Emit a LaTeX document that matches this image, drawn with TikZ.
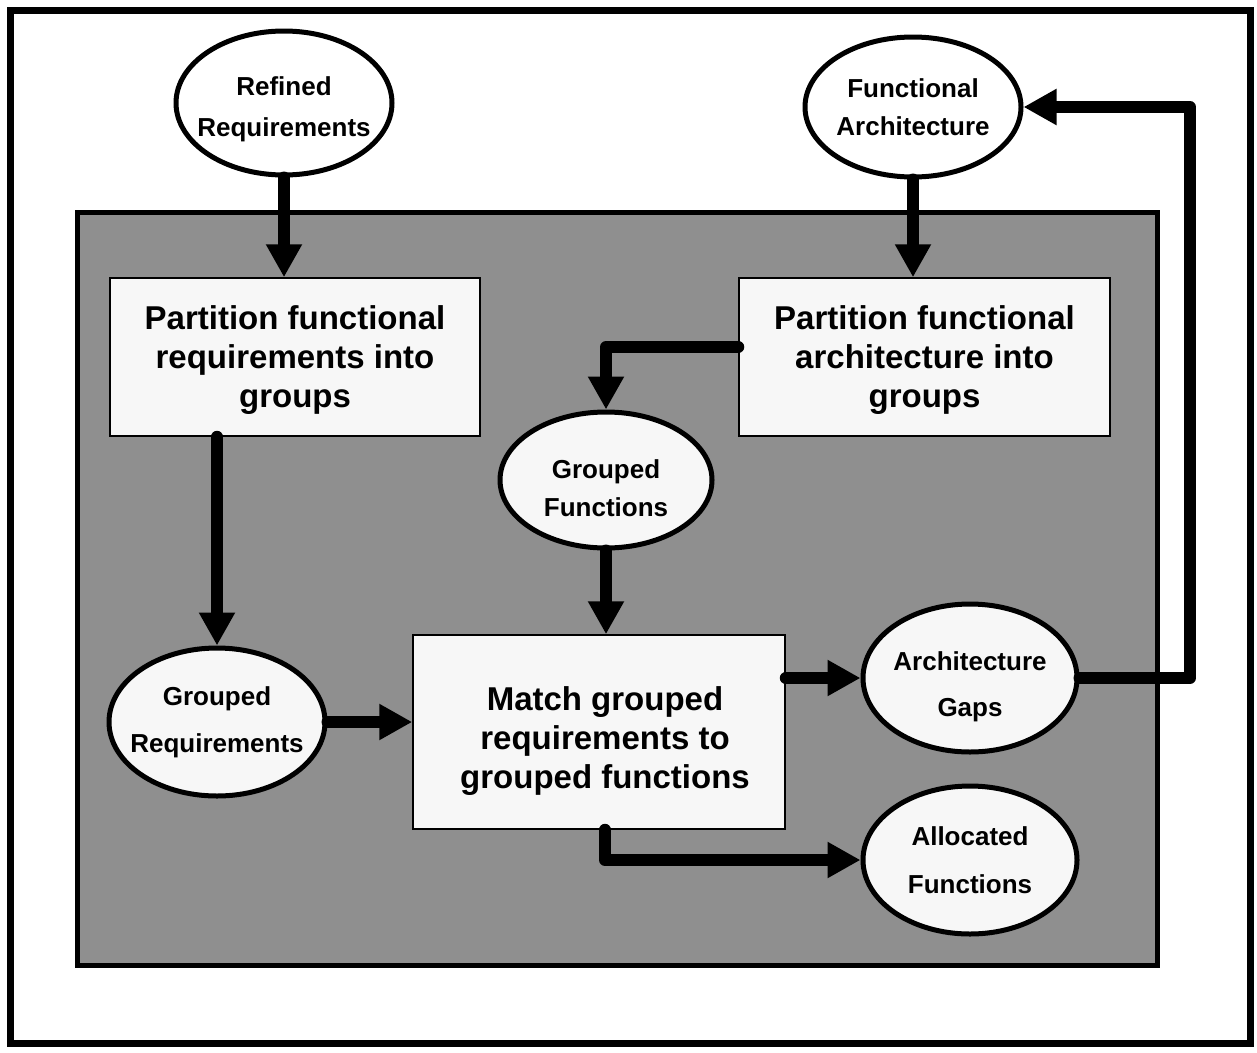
\documentclass[tikz,border=0pt]{standalone}
\usepackage{fontspec}
\setmainfont{Liberation Sans}
\usetikzlibrary{arrows.meta,shapes.geometric}
\definecolor{panelgray}{RGB}{143,143,143}
\definecolor{boxfill}{RGB}{247,247,247}
\begin{document}
\begin{tikzpicture}[x=1pt,y=-1pt,
  frame/.style={draw, rectangle, line width=7pt, inner sep=0pt},
  panel/.style={draw, rectangle, line width=5pt, fill=panelgray, inner sep=0pt},
  stepbox/.style={draw, rectangle, line width=1.5pt, fill=boxfill, inner sep=0pt},
  boxtext/.style={align=center, font=\bfseries\fontsize{33}{39}\selectfont},
  oval/.style={draw, ellipse, line width=5pt, fill=boxfill, inner sep=0pt},
  ovaltext/.style={align=center, font=\bfseries\fontsize{26}{#1}\selectfont},
  arr/.style={line width=12pt, line join=round, line cap=round,
    -{Triangle[length=33pt,width=34pt]}}
]
\useasboundingbox (0,0) rectangle (1257,1052);
\node[frame, minimum width=1240pt, minimum height=1033pt] (frame) at (630,526.5) {};
\node[panel, minimum width=1080pt, minimum height=753pt] (panel) at (617,588.5) {};

\node[oval, fill=white, minimum width=216pt, minimum height=144pt,
  label={[ovaltext=41,yshift=-6pt]center:Refined\\Requirements}] (rr) at (284,103) {};
\node[oval, fill=white, minimum width=216pt, minimum height=140pt,
  label={[ovaltext=38]center:Functional\\Architecture}] (fa) at (913,107) {};

\node[stepbox, minimum width=370pt, minimum height=158pt,
  label={[boxtext,yshift=-3pt]center:Partition functional\\requirements into\\groups}] (b1) at (295,357) {};
\node[stepbox, minimum width=371pt, minimum height=158pt,
  label={[boxtext,yshift=-3pt]center:Partition functional\\architecture into\\groups}] (b2) at (924.5,357) {};

\node[oval, minimum width=212pt, minimum height=136pt,
  label={[ovaltext=38,yshift=-8pt]center:Grouped\\Functions}] (gf) at (606,480) {};
\node[oval, minimum width=216pt, minimum height=148pt,
  label={[ovaltext=47]center:Grouped\\Requirements}] (gr) at (217,722) {};

\node[stepbox, minimum width=372pt, minimum height=194pt,
  label={[boxtext,xshift=6pt,yshift=-9pt]center:Match grouped\\requirements to\\grouped functions}] (b3) at (599,732) {};

\node[oval, minimum width=214pt, minimum height=148pt,
  label={[ovaltext=46,yshift=-9pt]center:Architecture\\Gaps}] (ag) at (970,678) {};
\node[oval, minimum width=214pt, minimum height=148pt,
  label={[ovaltext=48]center:Allocated\\Functions}] (af) at (970,860) {};

\coordinate (turn) at (1190,0);

\draw[arr] (rr.south) -- (rr.south |- b1.north);
\draw[arr] (fa.south) -- (fa.south |- b2.north);
\draw[arr] ([yshift=10pt]b2.west) -| (gf.north);
\draw[arr] (gr.north |- b1.south) -- (gr.north);
\draw[arr] (gf.south) -- (gf.south |- b3.north);
\draw[arr] (gr.east) -- (gr.east -| b3.west);
\draw[arr] (b3.east |- ag.west) -- (ag.west);
\draw[arr] ([xshift=6pt]b3.south) |- (af.west);
\draw[arr] (ag.east) -- (ag.east -| turn) -- (turn |- fa.east) -- (fa.east);
\end{tikzpicture}
\end{document}
